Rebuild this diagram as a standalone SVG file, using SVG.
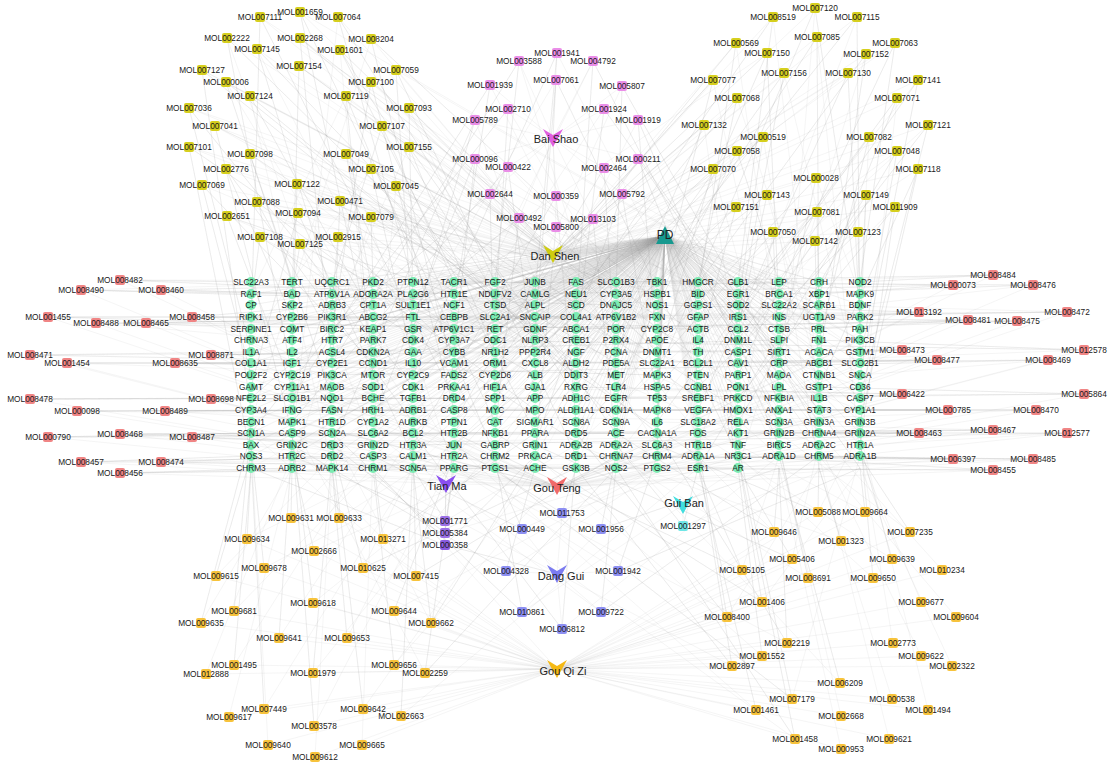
<svg xmlns="http://www.w3.org/2000/svg" width="1116" height="764" viewBox="0 0 1116 764">
<style>
.e path{fill:none;stroke:#a2a2a2;stroke-width:.4;stroke-opacity:.27;stroke-linejoin:round}
.e .pd path{stroke-opacity:.2}
.gn circle{fill:#7bebb2}
.gn text,.m text{font-family:"Liberation Sans",Arial,sans-serif;font-size:8.3px;fill:#1a1a1a;text-anchor:middle}
.h text{font-family:"Liberation Sans",Arial,sans-serif;font-size:11px;fill:#222;text-anchor:middle}
.y rect{fill:#d6cf1e}.p rect{fill:#ea8ee8}.r rect{fill:#f08585}.o rect{fill:#f7c33c}.v rect{fill:#9c70e6}.b rect{fill:#8d8ff2}.c rect{fill:#6fe6e6}
</style>
<rect width="1116" height="764" fill="#ffffff"/>
<g id="edges" class="e">
<g class="pd">
<path d="M251 282L665 236 251 294 665 236 251 305 665 236 251 317 665 236 251 329 665 236 251 340 665 236 251 352 665 236 251 363 665 236 251 375 665 236 251 387 665 236 251 398 665 236 251 410 665 236 251 422 665 236 251 433 665 236 251 445 665 236 251 456 665 236 251 468"/>
<path d="M292 282L665 236 292 294 665 236 292 305 665 236 292 317 665 236 292 329 665 236 292 340 665 236 292 352 665 236 292 363 665 236 292 375 665 236 292 387 665 236 292 398 665 236 292 410 665 236 292 422 665 236 292 433 665 236 292 445 665 236 292 456 665 236 292 468"/>
<path d="M332 282L665 236 332 294 665 236 332 305 665 236 332 317 665 236 332 329 665 236 332 340 665 236 332 352 665 236 332 363 665 236 332 375 665 236 332 387 665 236 332 398 665 236 332 410 665 236 332 422 665 236 332 433 665 236 332 445 665 236 332 456 665 236 332 468"/>
<path d="M373 282L665 236 373 294 665 236 373 305 665 236 373 317 665 236 373 329 665 236 373 340 665 236 373 352 665 236 373 363 665 236 373 375 665 236 373 387 665 236 373 398 665 236 373 410 665 236 373 422 665 236 373 433 665 236 373 445 665 236 373 456 665 236 373 468"/>
<path d="M413 282L665 236 413 294 665 236 413 305 665 236 413 317 665 236 413 329 665 236 413 340 665 236 413 352 665 236 413 363 665 236 413 375 665 236 413 387 665 236 413 398 665 236 413 410 665 236 413 422 665 236 413 433 665 236 413 445 665 236 413 456 665 236 413 468"/>
<path d="M454 282L665 236 454 294 665 236 454 305 665 236 454 317 665 236 454 329 665 236 454 340 665 236 454 352 665 236 454 363 665 236 454 375 665 236 454 387 665 236 454 398 665 236 454 410 665 236 454 422 665 236 454 433 665 236 454 445 665 236 454 456 665 236 454 468"/>
<path d="M495 282L665 236 495 294 665 236 495 305 665 236 495 317 665 236 495 329 665 236 495 340 665 236 495 352 665 236 495 363 665 236 495 375 665 236 495 387 665 236 495 398 665 236 495 410 665 236 495 422 665 236 495 433 665 236 495 445 665 236 495 456 665 236 495 468"/>
<path d="M535 282L665 236 535 294 665 236 535 305 665 236 535 317 665 236 535 329 665 236 535 340 665 236 535 352 665 236 535 363 665 236 535 375 665 236 535 387 665 236 535 398 665 236 535 410 665 236 535 422 665 236 535 433 665 236 535 445 665 236 535 456 665 236 535 468"/>
<path d="M576 282L665 236 576 294 665 236 576 305 665 236 576 317 665 236 576 329 665 236 576 340 665 236 576 352 665 236 576 363 665 236 576 375 665 236 576 387 665 236 576 398 665 236 576 410 665 236 576 422 665 236 576 433 665 236 576 445 665 236 576 456 665 236 576 468"/>
<path d="M616 282L665 236 616 294 665 236 616 305 665 236 616 317 665 236 616 329 665 236 616 340 665 236 616 352 665 236 616 363 665 236 616 375 665 236 616 387 665 236 616 398 665 236 616 410 665 236 616 422 665 236 616 433 665 236 616 445 665 236 616 456 665 236 616 468"/>
<path d="M657 282L665 236 657 294 665 236 657 305 665 236 657 317 665 236 657 329 665 236 657 340 665 236 657 352 665 236 657 363 665 236 657 375 665 236 657 387 665 236 657 398 665 236 657 410 665 236 657 422 665 236 657 433 665 236 657 445 665 236 657 456 665 236 657 468"/>
<path d="M698 282L665 236 698 294 665 236 698 305 665 236 698 317 665 236 698 329 665 236 698 340 665 236 698 352 665 236 698 363 665 236 698 375 665 236 698 387 665 236 698 398 665 236 698 410 665 236 698 422 665 236 698 433 665 236 698 445 665 236 698 456 665 236 698 468"/>
<path d="M738 282L665 236 738 294 665 236 738 305 665 236 738 317 665 236 738 329 665 236 738 340 665 236 738 352 665 236 738 363 665 236 738 375 665 236 738 387 665 236 738 398 665 236 738 410 665 236 738 422 665 236 738 433 665 236 738 445 665 236 738 456 665 236 738 468"/>
<path d="M779 282L665 236 779 294 665 236 779 305 665 236 779 317 665 236 779 329 665 236 779 340 665 236 779 352 665 236 779 363 665 236 779 375 665 236 779 387 665 236 779 398 665 236 779 410 665 236 779 422 665 236 779 433 665 236 779 445 665 236 779 456"/>
<path d="M819 282L665 236 819 294 665 236 819 305 665 236 819 317 665 236 819 329 665 236 819 340 665 236 819 352 665 236 819 363 665 236 819 375 665 236 819 387 665 236 819 398 665 236 819 410 665 236 819 422 665 236 819 433 665 236 819 445 665 236 819 456"/>
<path d="M860 282L665 236 860 294 665 236 860 305 665 236 860 317 665 236 860 329 665 236 860 340 665 236 860 352 665 236 860 363 665 236 860 375 665 236 860 387 665 236 860 398 665 236 860 410 665 236 860 422 665 236 860 433 665 236 860 445 665 236 860 456"/>
</g>
<path d="M553 255L260 17 251 329 260 17 454 398 260 17 698 305"/>
<path d="M553 255L227 38 292 375 227 38 535 340 227 38 373 445"/>
<path d="M553 255L257 49 332 294 257 49 616 422 257 49 413 352"/>
<path d="M553 255L202 70 251 410 202 70 495 305 202 70 779 375"/>
<path d="M553 255L226 82 292 282 226 82 576 363 226 82 454 456"/>
<path d="M553 255L250 96 373 317 250 96 657 433 250 96 332 468"/>
<path d="M553 255L189 108 251 352 189 108 413 387 189 108 738 294"/>
<path d="M553 255L215 126 292 433 215 126 535 282 215 126 616 352"/>
<path d="M553 255L189 147 251 456 189 147 454 329 189 147 860 410"/>
<path d="M553 255L250 154 332 398 250 154 698 456 250 154 495 340"/>
<path d="M553 255L226 169 292 317 226 169 413 422 226 169 576 305"/>
<path d="M553 255L202 185 251 375 202 185 373 363 202 185 819 445"/>
<path d="M553 255L257 202 332 340 257 202 535 410 257 202 657 282"/>
<path d="M553 255L227 216 292 387 227 216 454 294 227 216 738 433"/>
<path d="M553 255L260 237 251 305 260 237 616 468 260 237 413 317"/>
<path d="M553 255L300 12 373 352 300 12 495 422 300 12 860 340"/>
<path d="M553 255L338 17 413 282 338 17 576 398 338 17 292 445"/>
<path d="M553 255L300 38 332 363 300 38 657 317 300 38 779 456"/>
<path d="M553 255L371 39 454 375 371 39 698 340 371 39 251 422"/>
<path d="M553 255L340 50 495 294 340 50 535 433 340 50 373 398"/>
<path d="M553 255L299 66 292 305 299 66 738 387 299 66 616 282"/>
<path d="M553 255L396 70 413 340 396 70 576 456 396 70 819 317"/>
<path d="M553 255L371 82 332 329 371 82 454 410 371 82 698 363"/>
<path d="M553 255L346 96 373 375 346 96 495 456 346 96 251 294"/>
<path d="M553 255L409 108 413 305 409 108 657 352 409 108 535 387"/>
<path d="M553 255L382 126 454 282 382 126 292 410 382 126 779 329"/>
<path d="M553 255L409 147 495 352 409 147 616 433 409 147 332 317"/>
<path d="M553 255L346 154 373 294 346 154 576 375 346 154 454 468"/>
<path d="M553 255L371 169 413 363 371 169 738 410 371 169 251 340"/>
<path d="M553 255L297 184 292 352 297 184 535 305 297 184 860 387"/>
<path d="M553 255L396 186 454 317 396 186 698 398 396 186 373 433"/>
<path d="M553 255L340 201 332 375 340 201 657 294 340 201 495 445"/>
<path d="M553 255L298 213 251 387 298 213 413 456 298 213 576 329"/>
<path d="M553 255L371 217 373 282 371 217 616 363 371 217 292 468"/>
<path d="M553 255L338 237 332 305 338 237 454 352 338 237 779 398"/>
<path d="M553 255L300 244 292 294 300 244 535 375 300 244 413 410"/>
<path d="M553 255L815 8 860 305 815 8 657 375 815 8 779 433"/>
<path d="M553 255L773 17 738 282 773 17 535 363 773 17 819 410"/>
<path d="M553 255L857 17 860 352 857 17 616 317 857 17 698 445"/>
<path d="M553 255L736 43 698 294 736 43 454 387 736 43 779 340"/>
<path d="M553 255L817 37 819 329 817 37 576 410 817 37 860 456"/>
<path d="M553 255L895 43 860 282 895 43 738 375 895 43 495 329"/>
<path d="M553 255L767 53 779 305 767 53 616 398 767 53 413 294"/>
<path d="M553 255L866 54 819 363 866 54 657 340 866 54 738 468"/>
<path d="M553 255L784 73 738 317 784 73 535 422 784 73 860 387"/>
<path d="M553 255L848 73 860 329 848 73 698 410 848 73 576 282"/>
<path d="M553 255L713 80 657 305 713 80 454 363 713 80 779 387"/>
<path d="M553 255L918 80 860 375 918 80 738 340 918 80 616 456"/>
<path d="M553 255L737 98 698 282 737 98 495 398 737 98 819 352"/>
<path d="M553 255L897 98 819 294 897 98 657 422 897 98 860 433"/>
<path d="M553 255L704 125 616 329 704 125 373 410 704 125 738 363"/>
<path d="M553 255L928 125 860 398 928 125 779 317 928 125 576 445"/>
<path d="M553 255L763 137 738 305 763 137 535 352 763 137 819 468"/>
<path d="M553 255L869 137 819 340 869 137 698 375 869 137 860 305"/>
<path d="M553 255L737 151 779 282 737 151 616 387 737 151 413 433"/>
<path d="M553 255L897 151 860 363 897 151 738 422 897 151 657 329"/>
<path d="M553 255L713 169 657 363 713 169 495 375 713 169 779 410"/>
<path d="M553 255L918 169 860 422 918 169 819 387 918 169 698 317"/>
<path d="M553 255L816 178 779 352 816 178 576 433 816 178 860 294"/>
<path d="M553 255L767 195 738 329 767 195 454 445 767 195 819 375"/>
<path d="M553 255L866 195 860 340 866 195 698 468 866 195 779 294"/>
<path d="M553 255L736 207 698 352 736 207 535 398 736 207 616 305"/>
<path d="M553 255L895 207 860 445 895 207 738 398 895 207 819 282"/>
<path d="M553 255L817 212 819 317 817 212 657 387 817 212 576 352"/>
<path d="M553 255L773 232 779 363 773 232 616 410 773 232 738 445"/>
<path d="M553 255L858 232 860 317 858 232 698 387 858 232 495 433"/>
<path d="M553 255L815 241 819 398 815 241 738 352 815 241 657 456"/>
<path d="M553 138L557 53 535 294 557 53 413 375 557 53 698 329"/>
<path d="M553 138L519 61 495 282 519 61 332 363 519 61 616 375"/>
<path d="M553 138L593 61 576 317 593 61 779 422 593 61 454 340"/>
<path d="M553 138L490 85 454 305 490 85 292 398 490 85 657 410"/>
<path d="M553 138L556 80 535 329 556 80 738 456 556 80 373 387"/>
<path d="M553 138L622 86 616 294 622 86 819 433 622 86 495 363"/>
<path d="M553 138L508 109 495 317 508 109 251 433 508 109 698 422"/>
<path d="M553 138L604 109 576 340 604 109 860 468 604 109 413 398"/>
<path d="M553 138L475 120 413 329 475 120 332 445 475 120 576 387"/>
<path d="M553 138L638 120 657 352 638 120 779 445 638 120 535 317"/>
<path d="M553 138L475 159 454 352 475 159 373 422 475 159 616 340"/>
<path d="M553 138L638 159 698 305 638 159 819 422 638 159 495 387"/>
<path d="M553 138L508 167 535 363 508 167 292 422 508 167 738 410"/>
<path d="M553 138L604 168 616 375 604 168 454 422 604 168 860 352"/>
<path d="M553 138L490 194 495 410 490 194 251 398 490 194 657 445"/>
<path d="M553 138L556 196 576 422 556 196 413 445 556 196 779 352"/>
<path d="M553 138L622 194 657 398 622 194 535 445 622 194 819 305"/>
<path d="M553 138L519 218 495 433 519 218 373 340 519 218 698 433"/>
<path d="M553 138L593 219 616 445 593 219 454 433 593 219 738 317"/>
<path d="M553 138L556 227 535 456 556 227 332 352 556 227 779 363"/>
<path d="M557 487L120 280 251 282 120 280 454 294 120 280 779 282"/>
<path d="M557 487L81 290 292 294 81 290 616 305 81 290 373 282"/>
<path d="M557 487L161 290 332 294 161 290 535 282 161 290 738 305"/>
<path d="M557 487L48 317 251 317 48 317 495 329 48 317 860 317"/>
<path d="M557 487L96 323 373 329 96 323 657 317 96 323 292 340"/>
<path d="M557 487L146 323 413 317 146 323 698 329 146 323 251 329"/>
<path d="M557 487L192 317 332 305 192 317 576 317 192 317 819 329"/>
<path d="M557 487L30 355 251 352 30 355 454 363 30 355 738 352"/>
<path d="M557 487L67 363 292 363 67 363 616 363 67 363 413 375"/>
<path d="M557 487L211 355 373 352 211 355 779 340 211 355 535 352"/>
<path d="M557 487L175 363 332 363 175 363 657 375 175 363 495 363"/>
<path d="M557 487L30 399 251 398 30 399 454 398 30 399 819 398"/>
<path d="M557 487L211 399 373 387 211 399 698 398 211 399 576 410"/>
<path d="M557 487L77 411 292 410 77 411 535 410 77 411 860 422"/>
<path d="M557 487L165 411 413 410 165 411 738 410 165 411 332 422"/>
<path d="M557 487L48 437 251 433 48 437 495 433 48 437 779 445"/>
<path d="M557 487L120 434 332 433 120 434 616 433 120 434 413 445"/>
<path d="M557 487L192 437 373 445 192 437 657 433 192 437 292 433"/>
<path d="M557 487L81 462 251 456 81 462 454 456 81 462 738 468"/>
<path d="M557 487L161 462 332 456 161 462 576 468 161 462 860 456"/>
<path d="M557 487L120 473 292 468 120 473 535 468 120 473 413 468"/>
<path d="M557 487L993 275 860 282 993 275 616 282 993 275 413 294"/>
<path d="M557 487L953 285 819 294 953 285 535 294 953 285 738 282"/>
<path d="M557 487L1033 285 779 294 1033 285 454 282 1033 285 860 305"/>
<path d="M557 487L919 312 860 317 919 312 657 305 919 312 332 317"/>
<path d="M557 487L1067 312 738 317 1067 312 495 317 1067 312 819 305"/>
<path d="M557 487L968 320 819 329 968 320 576 329 968 320 251 317"/>
<path d="M557 487L1017 321 779 329 1017 321 413 329 1017 321 698 317"/>
<path d="M557 487L902 350 860 352 902 350 616 352 902 350 292 352"/>
<path d="M557 487L1084 350 819 340 1084 350 454 340 1084 350 738 363"/>
<path d="M557 487L937 360 779 363 937 360 535 363 937 360 373 363"/>
<path d="M557 487L1048 360 698 363 1048 360 332 375 1048 360 860 375"/>
<path d="M557 487L902 394 860 398 902 394 576 387 902 394 413 387"/>
<path d="M557 487L1084 394 819 387 1084 394 495 398 1084 394 738 398"/>
<path d="M557 487L948 410 779 410 948 410 616 410 948 410 292 410"/>
<path d="M557 487L1036 410 860 410 1036 410 454 410 1036 410 698 422"/>
<path d="M557 487L919 433 819 433 919 433 535 433 919 433 251 445"/>
<path d="M557 487L993 430 779 433 993 430 373 433 993 430 657 422"/>
<path d="M557 487L1067 433 738 433 1067 433 413 445 1067 433 860 445"/>
<path d="M557 487L953 459 819 456 953 459 576 456 953 459 332 468"/>
<path d="M557 487L1033 459 779 456 1033 459 495 456 1033 459 698 468"/>
<path d="M557 487L993 470 738 456 993 470 454 468 993 470 616 468"/>
<path d="M446 484L445 521 413 468 445 521 292 456 445 521 576 445"/>
<path d="M446 484L445 533 454 456 445 533 332 445 445 533 698 456"/>
<path d="M446 484L445 545 373 468 445 545 535 456 445 545 251 468 445 545 557 574 445 545 557 669"/>
<path d="M557 574L562 513 576 468 562 513 454 445 562 513 738 456"/>
<path d="M557 574L522 529 495 468 522 529 373 456 522 529 657 468"/>
<path d="M557 574L601 529 616 456 601 529 779 468 601 529 413 456"/>
<path d="M557 574L506 571 535 468 506 571 292 445 506 571 698 445"/>
<path d="M557 574L618 571 657 456 618 571 860 468 618 571 454 468"/>
<path d="M557 574L522 612 495 456 522 612 332 433 522 612 738 468"/>
<path d="M557 574L601 612 616 468 601 612 819 456 601 612 373 445"/>
<path d="M557 574L562 629 576 456 562 629 413 433 562 629 779 456"/>
<path d="M683 505L683 526 698 468 683 526 616 445 683 526 860 456"/>
<path d="M557 669L291 518 292 468 291 518 373 433"/>
<path d="M557 669L339 518 332 468 339 518 454 445"/>
<path d="M557 669L247 539 251 468 247 539 413 456"/>
<path d="M557 669L383 539 373 456 383 539 535 433 383 539 292 445"/>
<path d="M557 669L314 551 292 456 314 551 495 468"/>
<path d="M557 669L264 568 251 445 264 568 454 468"/>
<path d="M557 669L216 576 251 456 216 576 332 456"/>
<path d="M557 669L363 568 332 445 363 568 576 468 363 568 413 468"/>
<path d="M557 669L416 576 413 445 416 576 616 456 416 576 251 433"/>
<path d="M557 669L313 603 292 433 313 603 495 456"/>
<path d="M557 669L234 611 251 422 234 611 373 468"/>
<path d="M557 669L201 623 251 433 201 623 292 468"/>
<path d="M557 669L394 611 454 456 394 611 657 468"/>
<path d="M557 669L431 623 413 468 431 623 535 456 431 623 332 433"/>
<path d="M557 669L279 638 292 445 279 638 413 433"/>
<path d="M557 669L347 638 332 468 347 638 454 433"/>
<path d="M557 669L234 665 251 468 234 665 373 445"/>
<path d="M557 669L206 674 292 456"/>
<path d="M557 669L313 673 332 456 313 673 495 445"/>
<path d="M557 669L394 665 373 468 394 665 576 456"/>
<path d="M557 669L425 673 454 468 425 673 616 468 425 673 292 422"/>
<path d="M557 669L264 709 251 456 264 709 413 468"/>
<path d="M557 669L229 717 292 468"/>
<path d="M557 669L363 709 332 445 363 709 535 468"/>
<path d="M557 669L401 716 413 456 401 716 698 468"/>
<path d="M557 669L314 726 292 433 314 726 454 456"/>
<path d="M557 669L268 745 251 445"/>
<path d="M557 669L362 745 373 456"/>
<path d="M557 669L315 757 332 468"/>
<path d="M557 669L818 512 819 456 818 512 657 445 818 512 860 433"/>
<path d="M557 669L865 512 860 468 865 512 738 445"/>
<path d="M557 669L774 532 779 468 774 532 616 433 774 532 698 456"/>
<path d="M557 669L841 541 819 468 841 541 576 445"/>
<path d="M557 669L910 532 860 456 910 532 779 433"/>
<path d="M557 669L792 559 738 468 792 559 535 445 792 559 819 445"/>
<path d="M557 669L892 559 860 445 892 559 698 433"/>
<path d="M557 669L742 570 698 468 742 570 454 433 742 570 779 456"/>
<path d="M557 669L942 570 819 433"/>
<path d="M557 669L808 578 779 445 808 578 616 456"/>
<path d="M557 669L873 578 860 433 873 578 738 456"/>
<path d="M557 669L762 602 738 456 762 602 495 433 762 602 860 468"/>
<path d="M557 669L921 602 860 456"/>
<path d="M557 669L727 617 698 445 727 617 576 433 727 617 819 468"/>
<path d="M557 669L956 617 819 456"/>
<path d="M557 669L787 643 779 468 787 643 657 433 787 643 413 445"/>
<path d="M557 669L893 643 860 445"/>
<path d="M557 669L762 656 738 468 762 656 535 456"/>
<path d="M557 669L921 656 819 445"/>
<path d="M557 669L732 666 698 456 732 666 576 468 732 666 292 433"/>
<path d="M557 669L952 666 860 468"/>
<path d="M557 669L840 683 779 456 840 683 616 445"/>
<path d="M557 669L792 699 738 445 792 699 495 468 792 699 860 456"/>
<path d="M557 669L892 699 819 468"/>
<path d="M557 669L756 710 698 468 756 710 454 445"/>
<path d="M557 669L928 710 860 433"/>
<path d="M557 669L841 716 779 445"/>
<path d="M557 669L795 739 738 456 795 739 616 468 795 739 373 433"/>
<path d="M557 669L889 739 819 456"/>
<path d="M557 669L841 749 779 468"/>
</g>
<g id="genes" class="gn">
<g id="SLC22A3"><circle cx="251" cy="282" r="5"/><text x="251" y="285">SLC22A3</text></g>
<g id="RAF1"><circle cx="251" cy="294" r="5"/><text x="251" y="297">RAF1</text></g>
<g id="CP"><circle cx="251" cy="305" r="5"/><text x="251" y="308">CP</text></g>
<g id="RIPK1"><circle cx="251" cy="317" r="5"/><text x="251" y="320">RIPK1</text></g>
<g id="SERPINE1"><circle cx="251" cy="329" r="5"/><text x="251" y="332">SERPINE1</text></g>
<g id="CHRNA3"><circle cx="251" cy="340" r="5"/><text x="251" y="343">CHRNA3</text></g>
<g id="IL1A"><circle cx="251" cy="352" r="5"/><text x="251" y="355">IL1A</text></g>
<g id="COL1A1"><circle cx="251" cy="363" r="5"/><text x="251" y="366">COL1A1</text></g>
<g id="POU2F2"><circle cx="251" cy="375" r="5"/><text x="251" y="378">POU2F2</text></g>
<g id="GAMT"><circle cx="251" cy="387" r="5"/><text x="251" y="390">GAMT</text></g>
<g id="NFE2L2"><circle cx="251" cy="398" r="5"/><text x="251" y="401">NFE2L2</text></g>
<g id="CYP3A4"><circle cx="251" cy="410" r="5"/><text x="251" y="413">CYP3A4</text></g>
<g id="BECN1"><circle cx="251" cy="422" r="5"/><text x="251" y="425">BECN1</text></g>
<g id="SCN1A"><circle cx="251" cy="433" r="5"/><text x="251" y="436">SCN1A</text></g>
<g id="BAX"><circle cx="251" cy="445" r="5"/><text x="251" y="448">BAX</text></g>
<g id="NOS3"><circle cx="251" cy="456" r="5"/><text x="251" y="459">NOS3</text></g>
<g id="CHRM3"><circle cx="251" cy="468" r="5"/><text x="251" y="471">CHRM3</text></g>
<g id="TERT"><circle cx="292" cy="282" r="5"/><text x="292" y="285">TERT</text></g>
<g id="BAD"><circle cx="292" cy="294" r="5"/><text x="292" y="297">BAD</text></g>
<g id="SKP2"><circle cx="292" cy="305" r="5"/><text x="292" y="308">SKP2</text></g>
<g id="CYP2B6"><circle cx="292" cy="317" r="5"/><text x="292" y="320">CYP2B6</text></g>
<g id="COMT"><circle cx="292" cy="329" r="5"/><text x="292" y="332">COMT</text></g>
<g id="ATF4"><circle cx="292" cy="340" r="5"/><text x="292" y="343">ATF4</text></g>
<g id="IL2"><circle cx="292" cy="352" r="5"/><text x="292" y="355">IL2</text></g>
<g id="IGF1"><circle cx="292" cy="363" r="5"/><text x="292" y="366">IGF1</text></g>
<g id="CYP2C19"><circle cx="292" cy="375" r="5"/><text x="292" y="378">CYP2C19</text></g>
<g id="CYP11A1"><circle cx="292" cy="387" r="5"/><text x="292" y="390">CYP11A1</text></g>
<g id="SLCO1B1"><circle cx="292" cy="398" r="5"/><text x="292" y="401">SLCO1B1</text></g>
<g id="IFNG"><circle cx="292" cy="410" r="5"/><text x="292" y="413">IFNG</text></g>
<g id="MAPK1"><circle cx="292" cy="422" r="5"/><text x="292" y="425">MAPK1</text></g>
<g id="CASP9"><circle cx="292" cy="433" r="5"/><text x="292" y="436">CASP9</text></g>
<g id="GRIN2C"><circle cx="292" cy="445" r="5"/><text x="292" y="448">GRIN2C</text></g>
<g id="HTR2C"><circle cx="292" cy="456" r="5"/><text x="292" y="459">HTR2C</text></g>
<g id="ADRB2"><circle cx="292" cy="468" r="5"/><text x="292" y="471">ADRB2</text></g>
<g id="UQCRC1"><circle cx="332" cy="282" r="5"/><text x="332" y="285">UQCRC1</text></g>
<g id="ATP6V1A"><circle cx="332" cy="294" r="5"/><text x="332" y="297">ATP6V1A</text></g>
<g id="ADRB3"><circle cx="332" cy="305" r="5"/><text x="332" y="308">ADRB3</text></g>
<g id="PIK3R1"><circle cx="332" cy="317" r="5"/><text x="332" y="320">PIK3R1</text></g>
<g id="BIRC2"><circle cx="332" cy="329" r="5"/><text x="332" y="332">BIRC2</text></g>
<g id="HTR7"><circle cx="332" cy="340" r="5"/><text x="332" y="343">HTR7</text></g>
<g id="ACSL4"><circle cx="332" cy="352" r="5"/><text x="332" y="355">ACSL4</text></g>
<g id="CYP2E1"><circle cx="332" cy="363" r="5"/><text x="332" y="366">CYP2E1</text></g>
<g id="PIK3CA"><circle cx="332" cy="375" r="5"/><text x="332" y="378">PIK3CA</text></g>
<g id="MAOB"><circle cx="332" cy="387" r="5"/><text x="332" y="390">MAOB</text></g>
<g id="NQO1"><circle cx="332" cy="398" r="5"/><text x="332" y="401">NQO1</text></g>
<g id="FASN"><circle cx="332" cy="410" r="5"/><text x="332" y="413">FASN</text></g>
<g id="HTR1D"><circle cx="332" cy="422" r="5"/><text x="332" y="425">HTR1D</text></g>
<g id="SCN2A"><circle cx="332" cy="433" r="5"/><text x="332" y="436">SCN2A</text></g>
<g id="DRD3"><circle cx="332" cy="445" r="5"/><text x="332" y="448">DRD3</text></g>
<g id="DRD2"><circle cx="332" cy="456" r="5"/><text x="332" y="459">DRD2</text></g>
<g id="MAPK14"><circle cx="332" cy="468" r="5"/><text x="332" y="471">MAPK14</text></g>
<g id="PKD2"><circle cx="373" cy="282" r="5"/><text x="373" y="285">PKD2</text></g>
<g id="ADORA2A"><circle cx="373" cy="294" r="5"/><text x="373" y="297">ADORA2A</text></g>
<g id="CPT1A"><circle cx="373" cy="305" r="5"/><text x="373" y="308">CPT1A</text></g>
<g id="ABCG2"><circle cx="373" cy="317" r="5"/><text x="373" y="320">ABCG2</text></g>
<g id="KEAP1"><circle cx="373" cy="329" r="5"/><text x="373" y="332">KEAP1</text></g>
<g id="PARK7"><circle cx="373" cy="340" r="5"/><text x="373" y="343">PARK7</text></g>
<g id="CDKN2A"><circle cx="373" cy="352" r="5"/><text x="373" y="355">CDKN2A</text></g>
<g id="CCND1"><circle cx="373" cy="363" r="5"/><text x="373" y="366">CCND1</text></g>
<g id="MTOR"><circle cx="373" cy="375" r="5"/><text x="373" y="378">MTOR</text></g>
<g id="SOD1"><circle cx="373" cy="387" r="5"/><text x="373" y="390">SOD1</text></g>
<g id="BCHE"><circle cx="373" cy="398" r="5"/><text x="373" y="401">BCHE</text></g>
<g id="HRH1"><circle cx="373" cy="410" r="5"/><text x="373" y="413">HRH1</text></g>
<g id="CYP1A2"><circle cx="373" cy="422" r="5"/><text x="373" y="425">CYP1A2</text></g>
<g id="SLC6A2"><circle cx="373" cy="433" r="5"/><text x="373" y="436">SLC6A2</text></g>
<g id="GRIN2D"><circle cx="373" cy="445" r="5"/><text x="373" y="448">GRIN2D</text></g>
<g id="CASP3"><circle cx="373" cy="456" r="5"/><text x="373" y="459">CASP3</text></g>
<g id="CHRM1"><circle cx="373" cy="468" r="5"/><text x="373" y="471">CHRM1</text></g>
<g id="PTPN12"><circle cx="413" cy="282" r="5"/><text x="413" y="285">PTPN12</text></g>
<g id="PLA2G6"><circle cx="413" cy="294" r="5"/><text x="413" y="297">PLA2G6</text></g>
<g id="SULT1E1"><circle cx="413" cy="305" r="5"/><text x="413" y="308">SULT1E1</text></g>
<g id="FTL"><circle cx="413" cy="317" r="5"/><text x="413" y="320">FTL</text></g>
<g id="GSR"><circle cx="413" cy="329" r="5"/><text x="413" y="332">GSR</text></g>
<g id="CDK4"><circle cx="413" cy="340" r="5"/><text x="413" y="343">CDK4</text></g>
<g id="GAA"><circle cx="413" cy="352" r="5"/><text x="413" y="355">GAA</text></g>
<g id="IL10"><circle cx="413" cy="363" r="5"/><text x="413" y="366">IL10</text></g>
<g id="CYP2C9"><circle cx="413" cy="375" r="5"/><text x="413" y="378">CYP2C9</text></g>
<g id="CDK1"><circle cx="413" cy="387" r="5"/><text x="413" y="390">CDK1</text></g>
<g id="TGFB1"><circle cx="413" cy="398" r="5"/><text x="413" y="401">TGFB1</text></g>
<g id="ADRB1"><circle cx="413" cy="410" r="5"/><text x="413" y="413">ADRB1</text></g>
<g id="AURKB"><circle cx="413" cy="422" r="5"/><text x="413" y="425">AURKB</text></g>
<g id="BCL2"><circle cx="413" cy="433" r="5"/><text x="413" y="436">BCL2</text></g>
<g id="HTR3A"><circle cx="413" cy="445" r="5"/><text x="413" y="448">HTR3A</text></g>
<g id="CALM1"><circle cx="413" cy="456" r="5"/><text x="413" y="459">CALM1</text></g>
<g id="SCN5A"><circle cx="413" cy="468" r="5"/><text x="413" y="471">SCN5A</text></g>
<g id="TACR1"><circle cx="454" cy="282" r="5"/><text x="454" y="285">TACR1</text></g>
<g id="HTR1E"><circle cx="454" cy="294" r="5"/><text x="454" y="297">HTR1E</text></g>
<g id="NCF1"><circle cx="454" cy="305" r="5"/><text x="454" y="308">NCF1</text></g>
<g id="CEBPB"><circle cx="454" cy="317" r="5"/><text x="454" y="320">CEBPB</text></g>
<g id="ATP6V1C1"><circle cx="454" cy="329" r="5"/><text x="454" y="332">ATP6V1C1</text></g>
<g id="CYP3A7"><circle cx="454" cy="340" r="5"/><text x="454" y="343">CYP3A7</text></g>
<g id="CYBB"><circle cx="454" cy="352" r="5"/><text x="454" y="355">CYBB</text></g>
<g id="VCAM1"><circle cx="454" cy="363" r="5"/><text x="454" y="366">VCAM1</text></g>
<g id="FADS2"><circle cx="454" cy="375" r="5"/><text x="454" y="378">FADS2</text></g>
<g id="PRKAA1"><circle cx="454" cy="387" r="5"/><text x="454" y="390">PRKAA1</text></g>
<g id="DRD4"><circle cx="454" cy="398" r="5"/><text x="454" y="401">DRD4</text></g>
<g id="CASP8"><circle cx="454" cy="410" r="5"/><text x="454" y="413">CASP8</text></g>
<g id="PTPN1"><circle cx="454" cy="422" r="5"/><text x="454" y="425">PTPN1</text></g>
<g id="HTR2B"><circle cx="454" cy="433" r="5"/><text x="454" y="436">HTR2B</text></g>
<g id="JUN"><circle cx="454" cy="445" r="5"/><text x="454" y="448">JUN</text></g>
<g id="HTR2A"><circle cx="454" cy="456" r="5"/><text x="454" y="459">HTR2A</text></g>
<g id="PPARG"><circle cx="454" cy="468" r="5"/><text x="454" y="471">PPARG</text></g>
<g id="FGF2"><circle cx="495" cy="282" r="5"/><text x="495" y="285">FGF2</text></g>
<g id="NDUFV2"><circle cx="495" cy="294" r="5"/><text x="495" y="297">NDUFV2</text></g>
<g id="CTSD"><circle cx="495" cy="305" r="5"/><text x="495" y="308">CTSD</text></g>
<g id="SLC2A1"><circle cx="495" cy="317" r="5"/><text x="495" y="320">SLC2A1</text></g>
<g id="RET"><circle cx="495" cy="329" r="5"/><text x="495" y="332">RET</text></g>
<g id="ODC1"><circle cx="495" cy="340" r="5"/><text x="495" y="343">ODC1</text></g>
<g id="NR1H2"><circle cx="495" cy="352" r="5"/><text x="495" y="355">NR1H2</text></g>
<g id="ORM1"><circle cx="495" cy="363" r="5"/><text x="495" y="366">ORM1</text></g>
<g id="CYP2D6"><circle cx="495" cy="375" r="5"/><text x="495" y="378">CYP2D6</text></g>
<g id="HIF1A"><circle cx="495" cy="387" r="5"/><text x="495" y="390">HIF1A</text></g>
<g id="SPP1"><circle cx="495" cy="398" r="5"/><text x="495" y="401">SPP1</text></g>
<g id="MYC"><circle cx="495" cy="410" r="5"/><text x="495" y="413">MYC</text></g>
<g id="CAT"><circle cx="495" cy="422" r="5"/><text x="495" y="425">CAT</text></g>
<g id="NFKB1"><circle cx="495" cy="433" r="5"/><text x="495" y="436">NFKB1</text></g>
<g id="GABRP"><circle cx="495" cy="445" r="5"/><text x="495" y="448">GABRP</text></g>
<g id="CHRM2"><circle cx="495" cy="456" r="5"/><text x="495" y="459">CHRM2</text></g>
<g id="PTGS1"><circle cx="495" cy="468" r="5"/><text x="495" y="471">PTGS1</text></g>
<g id="JUNB"><circle cx="535" cy="282" r="5"/><text x="535" y="285">JUNB</text></g>
<g id="CAMLG"><circle cx="535" cy="294" r="5"/><text x="535" y="297">CAMLG</text></g>
<g id="ALPL"><circle cx="535" cy="305" r="5"/><text x="535" y="308">ALPL</text></g>
<g id="SNCAIP"><circle cx="535" cy="317" r="5"/><text x="535" y="320">SNCAIP</text></g>
<g id="GDNF"><circle cx="535" cy="329" r="5"/><text x="535" y="332">GDNF</text></g>
<g id="NLRP3"><circle cx="535" cy="340" r="5"/><text x="535" y="343">NLRP3</text></g>
<g id="PPP2R4"><circle cx="535" cy="352" r="5"/><text x="535" y="355">PPP2R4</text></g>
<g id="CXCL8"><circle cx="535" cy="363" r="5"/><text x="535" y="366">CXCL8</text></g>
<g id="ALB"><circle cx="535" cy="375" r="5"/><text x="535" y="378">ALB</text></g>
<g id="GJA1"><circle cx="535" cy="387" r="5"/><text x="535" y="390">GJA1</text></g>
<g id="APP"><circle cx="535" cy="398" r="5"/><text x="535" y="401">APP</text></g>
<g id="MPO"><circle cx="535" cy="410" r="5"/><text x="535" y="413">MPO</text></g>
<g id="SIGMAR1"><circle cx="535" cy="422" r="5"/><text x="535" y="425">SIGMAR1</text></g>
<g id="PPARA"><circle cx="535" cy="433" r="5"/><text x="535" y="436">PPARA</text></g>
<g id="GRIN1"><circle cx="535" cy="445" r="5"/><text x="535" y="448">GRIN1</text></g>
<g id="PRKACA"><circle cx="535" cy="456" r="5"/><text x="535" y="459">PRKACA</text></g>
<g id="ACHE"><circle cx="535" cy="468" r="5"/><text x="535" y="471">ACHE</text></g>
<g id="FAS"><circle cx="576" cy="282" r="5"/><text x="576" y="285">FAS</text></g>
<g id="NEU1"><circle cx="576" cy="294" r="5"/><text x="576" y="297">NEU1</text></g>
<g id="SCD"><circle cx="576" cy="305" r="5"/><text x="576" y="308">SCD</text></g>
<g id="COL4A1"><circle cx="576" cy="317" r="5"/><text x="576" y="320">COL4A1</text></g>
<g id="ABCA1"><circle cx="576" cy="329" r="5"/><text x="576" y="332">ABCA1</text></g>
<g id="CREB1"><circle cx="576" cy="340" r="5"/><text x="576" y="343">CREB1</text></g>
<g id="NGF"><circle cx="576" cy="352" r="5"/><text x="576" y="355">NGF</text></g>
<g id="ALDH2"><circle cx="576" cy="363" r="5"/><text x="576" y="366">ALDH2</text></g>
<g id="DDIT3"><circle cx="576" cy="375" r="5"/><text x="576" y="378">DDIT3</text></g>
<g id="RXRG"><circle cx="576" cy="387" r="5"/><text x="576" y="390">RXRG</text></g>
<g id="ADH1C"><circle cx="576" cy="398" r="5"/><text x="576" y="401">ADH1C</text></g>
<g id="ALDH1A1"><circle cx="576" cy="410" r="5"/><text x="576" y="413">ALDH1A1</text></g>
<g id="SCN8A"><circle cx="576" cy="422" r="5"/><text x="576" y="425">SCN8A</text></g>
<g id="DRD5"><circle cx="576" cy="433" r="5"/><text x="576" y="436">DRD5</text></g>
<g id="ADRA2B"><circle cx="576" cy="445" r="5"/><text x="576" y="448">ADRA2B</text></g>
<g id="DRD1"><circle cx="576" cy="456" r="5"/><text x="576" y="459">DRD1</text></g>
<g id="GSK3B"><circle cx="576" cy="468" r="5"/><text x="576" y="471">GSK3B</text></g>
<g id="SLCO1B3"><circle cx="616" cy="282" r="5"/><text x="616" y="285">SLCO1B3</text></g>
<g id="CYP3A5"><circle cx="616" cy="294" r="5"/><text x="616" y="297">CYP3A5</text></g>
<g id="DNAJC5"><circle cx="616" cy="305" r="5"/><text x="616" y="308">DNAJC5</text></g>
<g id="ATP6V1B2"><circle cx="616" cy="317" r="5"/><text x="616" y="320">ATP6V1B2</text></g>
<g id="POR"><circle cx="616" cy="329" r="5"/><text x="616" y="332">POR</text></g>
<g id="P2RX4"><circle cx="616" cy="340" r="5"/><text x="616" y="343">P2RX4</text></g>
<g id="PCNA"><circle cx="616" cy="352" r="5"/><text x="616" y="355">PCNA</text></g>
<g id="PDE5A"><circle cx="616" cy="363" r="5"/><text x="616" y="366">PDE5A</text></g>
<g id="MET"><circle cx="616" cy="375" r="5"/><text x="616" y="378">MET</text></g>
<g id="TLR4"><circle cx="616" cy="387" r="5"/><text x="616" y="390">TLR4</text></g>
<g id="EGFR"><circle cx="616" cy="398" r="5"/><text x="616" y="401">EGFR</text></g>
<g id="CDKN1A"><circle cx="616" cy="410" r="5"/><text x="616" y="413">CDKN1A</text></g>
<g id="SCN9A"><circle cx="616" cy="422" r="5"/><text x="616" y="425">SCN9A</text></g>
<g id="ACE"><circle cx="616" cy="433" r="5"/><text x="616" y="436">ACE</text></g>
<g id="ADRA2A"><circle cx="616" cy="445" r="5"/><text x="616" y="448">ADRA2A</text></g>
<g id="CHRNA7"><circle cx="616" cy="456" r="5"/><text x="616" y="459">CHRNA7</text></g>
<g id="NOS2"><circle cx="616" cy="468" r="5"/><text x="616" y="471">NOS2</text></g>
<g id="TBK1"><circle cx="657" cy="282" r="5"/><text x="657" y="285">TBK1</text></g>
<g id="HSPB1"><circle cx="657" cy="294" r="5"/><text x="657" y="297">HSPB1</text></g>
<g id="NOS1"><circle cx="657" cy="305" r="5"/><text x="657" y="308">NOS1</text></g>
<g id="FXN"><circle cx="657" cy="317" r="5"/><text x="657" y="320">FXN</text></g>
<g id="CYP2C8"><circle cx="657" cy="329" r="5"/><text x="657" y="332">CYP2C8</text></g>
<g id="APOE"><circle cx="657" cy="340" r="5"/><text x="657" y="343">APOE</text></g>
<g id="DNMT1"><circle cx="657" cy="352" r="5"/><text x="657" y="355">DNMT1</text></g>
<g id="SLC22A1"><circle cx="657" cy="363" r="5"/><text x="657" y="366">SLC22A1</text></g>
<g id="MAPK3"><circle cx="657" cy="375" r="5"/><text x="657" y="378">MAPK3</text></g>
<g id="HSPA5"><circle cx="657" cy="387" r="5"/><text x="657" y="390">HSPA5</text></g>
<g id="TP53"><circle cx="657" cy="398" r="5"/><text x="657" y="401">TP53</text></g>
<g id="MAPK8"><circle cx="657" cy="410" r="5"/><text x="657" y="413">MAPK8</text></g>
<g id="IL6"><circle cx="657" cy="422" r="5"/><text x="657" y="425">IL6</text></g>
<g id="CACNA1A"><circle cx="657" cy="433" r="5"/><text x="657" y="436">CACNA1A</text></g>
<g id="SLC6A3"><circle cx="657" cy="445" r="5"/><text x="657" y="448">SLC6A3</text></g>
<g id="CHRM4"><circle cx="657" cy="456" r="5"/><text x="657" y="459">CHRM4</text></g>
<g id="PTGS2"><circle cx="657" cy="468" r="5"/><text x="657" y="471">PTGS2</text></g>
<g id="HMGCR"><circle cx="698" cy="282" r="5"/><text x="698" y="285">HMGCR</text></g>
<g id="BID"><circle cx="698" cy="294" r="5"/><text x="698" y="297">BID</text></g>
<g id="GGPS1"><circle cx="698" cy="305" r="5"/><text x="698" y="308">GGPS1</text></g>
<g id="GFAP"><circle cx="698" cy="317" r="5"/><text x="698" y="320">GFAP</text></g>
<g id="ACTB"><circle cx="698" cy="329" r="5"/><text x="698" y="332">ACTB</text></g>
<g id="IL4"><circle cx="698" cy="340" r="5"/><text x="698" y="343">IL4</text></g>
<g id="TH"><circle cx="698" cy="352" r="5"/><text x="698" y="355">TH</text></g>
<g id="BCL2L1"><circle cx="698" cy="363" r="5"/><text x="698" y="366">BCL2L1</text></g>
<g id="PTEN"><circle cx="698" cy="375" r="5"/><text x="698" y="378">PTEN</text></g>
<g id="CCNB1"><circle cx="698" cy="387" r="5"/><text x="698" y="390">CCNB1</text></g>
<g id="SREBF1"><circle cx="698" cy="398" r="5"/><text x="698" y="401">SREBF1</text></g>
<g id="VEGFA"><circle cx="698" cy="410" r="5"/><text x="698" y="413">VEGFA</text></g>
<g id="SLC18A2"><circle cx="698" cy="422" r="5"/><text x="698" y="425">SLC18A2</text></g>
<g id="FOS"><circle cx="698" cy="433" r="5"/><text x="698" y="436">FOS</text></g>
<g id="HTR1B"><circle cx="698" cy="445" r="5"/><text x="698" y="448">HTR1B</text></g>
<g id="ADRA1A"><circle cx="698" cy="456" r="5"/><text x="698" y="459">ADRA1A</text></g>
<g id="ESR1"><circle cx="698" cy="468" r="5"/><text x="698" y="471">ESR1</text></g>
<g id="GLB1"><circle cx="738" cy="282" r="5"/><text x="738" y="285">GLB1</text></g>
<g id="EGR1"><circle cx="738" cy="294" r="5"/><text x="738" y="297">EGR1</text></g>
<g id="SOD2"><circle cx="738" cy="305" r="5"/><text x="738" y="308">SOD2</text></g>
<g id="IRS1"><circle cx="738" cy="317" r="5"/><text x="738" y="320">IRS1</text></g>
<g id="CCL2"><circle cx="738" cy="329" r="5"/><text x="738" y="332">CCL2</text></g>
<g id="DNM1L"><circle cx="738" cy="340" r="5"/><text x="738" y="343">DNM1L</text></g>
<g id="CASP1"><circle cx="738" cy="352" r="5"/><text x="738" y="355">CASP1</text></g>
<g id="CAV1"><circle cx="738" cy="363" r="5"/><text x="738" y="366">CAV1</text></g>
<g id="PARP1"><circle cx="738" cy="375" r="5"/><text x="738" y="378">PARP1</text></g>
<g id="PON1"><circle cx="738" cy="387" r="5"/><text x="738" y="390">PON1</text></g>
<g id="PRKCD"><circle cx="738" cy="398" r="5"/><text x="738" y="401">PRKCD</text></g>
<g id="HMOX1"><circle cx="738" cy="410" r="5"/><text x="738" y="413">HMOX1</text></g>
<g id="RELA"><circle cx="738" cy="422" r="5"/><text x="738" y="425">RELA</text></g>
<g id="AKT1"><circle cx="738" cy="433" r="5"/><text x="738" y="436">AKT1</text></g>
<g id="TNF"><circle cx="738" cy="445" r="5"/><text x="738" y="448">TNF</text></g>
<g id="NR3C1"><circle cx="738" cy="456" r="5"/><text x="738" y="459">NR3C1</text></g>
<g id="AR"><circle cx="738" cy="468" r="5"/><text x="738" y="471">AR</text></g>
<g id="LEP"><circle cx="779" cy="282" r="5"/><text x="779" y="285">LEP</text></g>
<g id="BRCA1"><circle cx="779" cy="294" r="5"/><text x="779" y="297">BRCA1</text></g>
<g id="SLC22A2"><circle cx="779" cy="305" r="5"/><text x="779" y="308">SLC22A2</text></g>
<g id="INS"><circle cx="779" cy="317" r="5"/><text x="779" y="320">INS</text></g>
<g id="CTSB"><circle cx="779" cy="329" r="5"/><text x="779" y="332">CTSB</text></g>
<g id="SLPI"><circle cx="779" cy="340" r="5"/><text x="779" y="343">SLPI</text></g>
<g id="SIRT1"><circle cx="779" cy="352" r="5"/><text x="779" y="355">SIRT1</text></g>
<g id="CRP"><circle cx="779" cy="363" r="5"/><text x="779" y="366">CRP</text></g>
<g id="MAOA"><circle cx="779" cy="375" r="5"/><text x="779" y="378">MAOA</text></g>
<g id="LPL"><circle cx="779" cy="387" r="5"/><text x="779" y="390">LPL</text></g>
<g id="NFKBIA"><circle cx="779" cy="398" r="5"/><text x="779" y="401">NFKBIA</text></g>
<g id="ANXA1"><circle cx="779" cy="410" r="5"/><text x="779" y="413">ANXA1</text></g>
<g id="SCN3A"><circle cx="779" cy="422" r="5"/><text x="779" y="425">SCN3A</text></g>
<g id="GRIN2B"><circle cx="779" cy="433" r="5"/><text x="779" y="436">GRIN2B</text></g>
<g id="BIRC5"><circle cx="779" cy="445" r="5"/><text x="779" y="448">BIRC5</text></g>
<g id="ADRA1D"><circle cx="779" cy="456" r="5"/><text x="779" y="459">ADRA1D</text></g>
<g id="CRH"><circle cx="819" cy="282" r="5"/><text x="819" y="285">CRH</text></g>
<g id="XBP1"><circle cx="819" cy="294" r="5"/><text x="819" y="297">XBP1</text></g>
<g id="SCARB1"><circle cx="819" cy="305" r="5"/><text x="819" y="308">SCARB1</text></g>
<g id="UGT1A9"><circle cx="819" cy="317" r="5"/><text x="819" y="320">UGT1A9</text></g>
<g id="PRL"><circle cx="819" cy="329" r="5"/><text x="819" y="332">PRL</text></g>
<g id="FN1"><circle cx="819" cy="340" r="5"/><text x="819" y="343">FN1</text></g>
<g id="ACACA"><circle cx="819" cy="352" r="5"/><text x="819" y="355">ACACA</text></g>
<g id="ABCB1"><circle cx="819" cy="363" r="5"/><text x="819" y="366">ABCB1</text></g>
<g id="CTNNB1"><circle cx="819" cy="375" r="5"/><text x="819" y="378">CTNNB1</text></g>
<g id="GSTP1"><circle cx="819" cy="387" r="5"/><text x="819" y="390">GSTP1</text></g>
<g id="IL1B"><circle cx="819" cy="398" r="5"/><text x="819" y="401">IL1B</text></g>
<g id="STAT3"><circle cx="819" cy="410" r="5"/><text x="819" y="413">STAT3</text></g>
<g id="GRIN3A"><circle cx="819" cy="422" r="5"/><text x="819" y="425">GRIN3A</text></g>
<g id="CHRNA4"><circle cx="819" cy="433" r="5"/><text x="819" y="436">CHRNA4</text></g>
<g id="ADRA2C"><circle cx="819" cy="445" r="5"/><text x="819" y="448">ADRA2C</text></g>
<g id="CHRM5"><circle cx="819" cy="456" r="5"/><text x="819" y="459">CHRM5</text></g>
<g id="NOD2"><circle cx="860" cy="282" r="5"/><text x="860" y="285">NOD2</text></g>
<g id="MAPK9"><circle cx="860" cy="294" r="5"/><text x="860" y="297">MAPK9</text></g>
<g id="BDNF"><circle cx="860" cy="305" r="5"/><text x="860" y="308">BDNF</text></g>
<g id="PARK2"><circle cx="860" cy="317" r="5"/><text x="860" y="320">PARK2</text></g>
<g id="PAH"><circle cx="860" cy="329" r="5"/><text x="860" y="332">PAH</text></g>
<g id="PIK3CB"><circle cx="860" cy="340" r="5"/><text x="860" y="343">PIK3CB</text></g>
<g id="GSTM1"><circle cx="860" cy="352" r="5"/><text x="860" y="355">GSTM1</text></g>
<g id="SLCO2B1"><circle cx="860" cy="363" r="5"/><text x="860" y="366">SLCO2B1</text></g>
<g id="SNCA"><circle cx="860" cy="375" r="5"/><text x="860" y="378">SNCA</text></g>
<g id="CD36"><circle cx="860" cy="387" r="5"/><text x="860" y="390">CD36</text></g>
<g id="CASP7"><circle cx="860" cy="398" r="5"/><text x="860" y="401">CASP7</text></g>
<g id="CYP1A1"><circle cx="860" cy="410" r="5"/><text x="860" y="413">CYP1A1</text></g>
<g id="GRIN3B"><circle cx="860" cy="422" r="5"/><text x="860" y="425">GRIN3B</text></g>
<g id="GRIN2A"><circle cx="860" cy="433" r="5"/><text x="860" y="436">GRIN2A</text></g>
<g id="HTR1A"><circle cx="860" cy="445" r="5"/><text x="860" y="448">HTR1A</text></g>
<g id="ADRA1B"><circle cx="860" cy="456" r="5"/><text x="860" y="459">ADRA1B</text></g>
</g>
<g id="compounds" class="m">
<g class="y">
<g id="MOL007111"><rect x="255" y="12" width="10" height="10" rx="2"/><text x="260" y="20">MOL007111</text></g>
<g id="MOL002222"><rect x="222" y="33" width="10" height="10" rx="2"/><text x="227" y="41">MOL002222</text></g>
<g id="MOL007145"><rect x="252" y="44" width="10" height="10" rx="2"/><text x="257" y="52">MOL007145</text></g>
<g id="MOL007127"><rect x="197" y="65" width="10" height="10" rx="2"/><text x="202" y="73">MOL007127</text></g>
<g id="MOL000006"><rect x="221" y="77" width="10" height="10" rx="2"/><text x="226" y="85">MOL000006</text></g>
<g id="MOL007124"><rect x="245" y="91" width="10" height="10" rx="2"/><text x="250" y="99">MOL007124</text></g>
<g id="MOL007036"><rect x="184" y="103" width="10" height="10" rx="2"/><text x="189" y="111">MOL007036</text></g>
<g id="MOL007041"><rect x="210" y="121" width="10" height="10" rx="2"/><text x="215" y="129">MOL007041</text></g>
<g id="MOL007101"><rect x="184" y="142" width="10" height="10" rx="2"/><text x="189" y="150">MOL007101</text></g>
<g id="MOL007098"><rect x="245" y="149" width="10" height="10" rx="2"/><text x="250" y="157">MOL007098</text></g>
<g id="MOL002776"><rect x="221" y="164" width="10" height="10" rx="2"/><text x="226" y="172">MOL002776</text></g>
<g id="MOL007069"><rect x="197" y="180" width="10" height="10" rx="2"/><text x="202" y="188">MOL007069</text></g>
<g id="MOL007088"><rect x="252" y="197" width="10" height="10" rx="2"/><text x="257" y="205">MOL007088</text></g>
<g id="MOL002651"><rect x="222" y="211" width="10" height="10" rx="2"/><text x="227" y="219">MOL002651</text></g>
<g id="MOL007108"><rect x="255" y="232" width="10" height="10" rx="2"/><text x="260" y="240">MOL007108</text></g>
<g id="MOL001659"><rect x="295" y="7" width="10" height="10" rx="2"/><text x="300" y="15">MOL001659</text></g>
<g id="MOL007064"><rect x="333" y="12" width="10" height="10" rx="2"/><text x="338" y="20">MOL007064</text></g>
<g id="MOL002268"><rect x="295" y="33" width="10" height="10" rx="2"/><text x="300" y="41">MOL002268</text></g>
<g id="MOL008204"><rect x="366" y="34" width="10" height="10" rx="2"/><text x="371" y="42">MOL008204</text></g>
<g id="MOL001601"><rect x="335" y="45" width="10" height="10" rx="2"/><text x="340" y="53">MOL001601</text></g>
<g id="MOL007154"><rect x="294" y="61" width="10" height="10" rx="2"/><text x="299" y="69">MOL007154</text></g>
<g id="MOL007059"><rect x="391" y="65" width="10" height="10" rx="2"/><text x="396" y="73">MOL007059</text></g>
<g id="MOL007100"><rect x="366" y="77" width="10" height="10" rx="2"/><text x="371" y="85">MOL007100</text></g>
<g id="MOL007119"><rect x="341" y="91" width="10" height="10" rx="2"/><text x="346" y="99">MOL007119</text></g>
<g id="MOL007093"><rect x="404" y="103" width="10" height="10" rx="2"/><text x="409" y="111">MOL007093</text></g>
<g id="MOL007107"><rect x="377" y="121" width="10" height="10" rx="2"/><text x="382" y="129">MOL007107</text></g>
<g id="MOL007155"><rect x="404" y="142" width="10" height="10" rx="2"/><text x="409" y="150">MOL007155</text></g>
<g id="MOL007049"><rect x="341" y="149" width="10" height="10" rx="2"/><text x="346" y="157">MOL007049</text></g>
<g id="MOL007105"><rect x="366" y="164" width="10" height="10" rx="2"/><text x="371" y="172">MOL007105</text></g>
<g id="MOL007122"><rect x="292" y="179" width="10" height="10" rx="2"/><text x="297" y="187">MOL007122</text></g>
<g id="MOL007045"><rect x="391" y="181" width="10" height="10" rx="2"/><text x="396" y="189">MOL007045</text></g>
<g id="MOL000471"><rect x="335" y="196" width="10" height="10" rx="2"/><text x="340" y="204">MOL000471</text></g>
<g id="MOL007094"><rect x="293" y="208" width="10" height="10" rx="2"/><text x="298" y="216">MOL007094</text></g>
<g id="MOL007079"><rect x="366" y="212" width="10" height="10" rx="2"/><text x="371" y="220">MOL007079</text></g>
<g id="MOL002915"><rect x="333" y="232" width="10" height="10" rx="2"/><text x="338" y="240">MOL002915</text></g>
<g id="MOL007125"><rect x="295" y="239" width="10" height="10" rx="2"/><text x="300" y="247">MOL007125</text></g>
<g id="MOL007120"><rect x="810" y="3" width="10" height="10" rx="2"/><text x="815" y="11">MOL007120</text></g>
<g id="MOL008519"><rect x="768" y="12" width="10" height="10" rx="2"/><text x="773" y="20">MOL008519</text></g>
<g id="MOL007115"><rect x="852" y="12" width="10" height="10" rx="2"/><text x="857" y="20">MOL007115</text></g>
<g id="MOL000569"><rect x="731" y="38" width="10" height="10" rx="2"/><text x="736" y="46">MOL000569</text></g>
<g id="MOL007085"><rect x="812" y="32" width="10" height="10" rx="2"/><text x="817" y="40">MOL007085</text></g>
<g id="MOL007063"><rect x="890" y="38" width="10" height="10" rx="2"/><text x="895" y="46">MOL007063</text></g>
<g id="MOL007150"><rect x="762" y="48" width="10" height="10" rx="2"/><text x="767" y="56">MOL007150</text></g>
<g id="MOL007152"><rect x="861" y="49" width="10" height="10" rx="2"/><text x="866" y="57">MOL007152</text></g>
<g id="MOL007156"><rect x="779" y="68" width="10" height="10" rx="2"/><text x="784" y="76">MOL007156</text></g>
<g id="MOL007130"><rect x="843" y="68" width="10" height="10" rx="2"/><text x="848" y="76">MOL007130</text></g>
<g id="MOL007077"><rect x="708" y="75" width="10" height="10" rx="2"/><text x="713" y="83">MOL007077</text></g>
<g id="MOL007141"><rect x="913" y="75" width="10" height="10" rx="2"/><text x="918" y="83">MOL007141</text></g>
<g id="MOL007068"><rect x="732" y="93" width="10" height="10" rx="2"/><text x="737" y="101">MOL007068</text></g>
<g id="MOL007071"><rect x="892" y="93" width="10" height="10" rx="2"/><text x="897" y="101">MOL007071</text></g>
<g id="MOL007132"><rect x="699" y="120" width="10" height="10" rx="2"/><text x="704" y="128">MOL007132</text></g>
<g id="MOL007121"><rect x="923" y="120" width="10" height="10" rx="2"/><text x="928" y="128">MOL007121</text></g>
<g id="MOL000519"><rect x="758" y="132" width="10" height="10" rx="2"/><text x="763" y="140">MOL000519</text></g>
<g id="MOL007082"><rect x="864" y="132" width="10" height="10" rx="2"/><text x="869" y="140">MOL007082</text></g>
<g id="MOL007058"><rect x="732" y="146" width="10" height="10" rx="2"/><text x="737" y="154">MOL007058</text></g>
<g id="MOL007048"><rect x="892" y="146" width="10" height="10" rx="2"/><text x="897" y="154">MOL007048</text></g>
<g id="MOL007070"><rect x="708" y="164" width="10" height="10" rx="2"/><text x="713" y="172">MOL007070</text></g>
<g id="MOL007118"><rect x="913" y="164" width="10" height="10" rx="2"/><text x="918" y="172">MOL007118</text></g>
<g id="MOL000028"><rect x="811" y="173" width="10" height="10" rx="2"/><text x="816" y="181">MOL000028</text></g>
<g id="MOL007143"><rect x="762" y="190" width="10" height="10" rx="2"/><text x="767" y="198">MOL007143</text></g>
<g id="MOL007149"><rect x="861" y="190" width="10" height="10" rx="2"/><text x="866" y="198">MOL007149</text></g>
<g id="MOL007151"><rect x="731" y="202" width="10" height="10" rx="2"/><text x="736" y="210">MOL007151</text></g>
<g id="MOL011909"><rect x="890" y="202" width="10" height="10" rx="2"/><text x="895" y="210">MOL011909</text></g>
<g id="MOL007081"><rect x="812" y="207" width="10" height="10" rx="2"/><text x="817" y="215">MOL007081</text></g>
<g id="MOL007050"><rect x="768" y="227" width="10" height="10" rx="2"/><text x="773" y="235">MOL007050</text></g>
<g id="MOL007123"><rect x="853" y="227" width="10" height="10" rx="2"/><text x="858" y="235">MOL007123</text></g>
<g id="MOL007142"><rect x="810" y="236" width="10" height="10" rx="2"/><text x="815" y="244">MOL007142</text></g>
</g>
<g class="p">
<g id="MOL001941"><rect x="552" y="48" width="10" height="10" rx="2"/><text x="557" y="56">MOL001941</text></g>
<g id="MOL003588"><rect x="514" y="56" width="10" height="10" rx="2"/><text x="519" y="64">MOL003588</text></g>
<g id="MOL004792"><rect x="588" y="56" width="10" height="10" rx="2"/><text x="593" y="64">MOL004792</text></g>
<g id="MOL001939"><rect x="485" y="80" width="10" height="10" rx="2"/><text x="490" y="88">MOL001939</text></g>
<g id="MOL007061"><rect x="551" y="75" width="10" height="10" rx="2"/><text x="556" y="83">MOL007061</text></g>
<g id="MOL005807"><rect x="617" y="81" width="10" height="10" rx="2"/><text x="622" y="89">MOL005807</text></g>
<g id="MOL002710"><rect x="503" y="104" width="10" height="10" rx="2"/><text x="508" y="112">MOL002710</text></g>
<g id="MOL001924"><rect x="599" y="104" width="10" height="10" rx="2"/><text x="604" y="112">MOL001924</text></g>
<g id="MOL005789"><rect x="470" y="115" width="10" height="10" rx="2"/><text x="475" y="123">MOL005789</text></g>
<g id="MOL001919"><rect x="633" y="115" width="10" height="10" rx="2"/><text x="638" y="123">MOL001919</text></g>
<g id="MOL000096"><rect x="470" y="154" width="10" height="10" rx="2"/><text x="475" y="162">MOL000096</text></g>
<g id="MOL000211"><rect x="633" y="154" width="10" height="10" rx="2"/><text x="638" y="162">MOL000211</text></g>
<g id="MOL000422"><rect x="503" y="162" width="10" height="10" rx="2"/><text x="508" y="170">MOL000422</text></g>
<g id="MOL002464"><rect x="599" y="163" width="10" height="10" rx="2"/><text x="604" y="171">MOL002464</text></g>
<g id="MOL002644"><rect x="485" y="189" width="10" height="10" rx="2"/><text x="490" y="197">MOL002644</text></g>
<g id="MOL000359"><rect x="551" y="191" width="10" height="10" rx="2"/><text x="556" y="199">MOL000359</text></g>
<g id="MOL005792"><rect x="617" y="189" width="10" height="10" rx="2"/><text x="622" y="197">MOL005792</text></g>
<g id="MOL000492"><rect x="514" y="213" width="10" height="10" rx="2"/><text x="519" y="221">MOL000492</text></g>
<g id="MOL013103"><rect x="588" y="214" width="10" height="10" rx="2"/><text x="593" y="222">MOL013103</text></g>
<g id="MOL005800"><rect x="551" y="222" width="10" height="10" rx="2"/><text x="556" y="230">MOL005800</text></g>
</g>
<g class="r">
<g id="MOL008482"><rect x="115" y="275" width="10" height="10" rx="2"/><text x="120" y="283">MOL008482</text></g>
<g id="MOL008490"><rect x="76" y="285" width="10" height="10" rx="2"/><text x="81" y="293">MOL008490</text></g>
<g id="MOL008460"><rect x="156" y="285" width="10" height="10" rx="2"/><text x="161" y="293">MOL008460</text></g>
<g id="MOL001455"><rect x="43" y="312" width="10" height="10" rx="2"/><text x="48" y="320">MOL001455</text></g>
<g id="MOL008488"><rect x="91" y="318" width="10" height="10" rx="2"/><text x="96" y="326">MOL008488</text></g>
<g id="MOL008465"><rect x="141" y="318" width="10" height="10" rx="2"/><text x="146" y="326">MOL008465</text></g>
<g id="MOL008458"><rect x="187" y="312" width="10" height="10" rx="2"/><text x="192" y="320">MOL008458</text></g>
<g id="MOL008471"><rect x="25" y="350" width="10" height="10" rx="2"/><text x="30" y="358">MOL008471</text></g>
<g id="MOL001454"><rect x="62" y="358" width="10" height="10" rx="2"/><text x="67" y="366">MOL001454</text></g>
<g id="MOL008871"><rect x="206" y="350" width="10" height="10" rx="2"/><text x="211" y="358">MOL008871</text></g>
<g id="MOL008635"><rect x="170" y="358" width="10" height="10" rx="2"/><text x="175" y="366">MOL008635</text></g>
<g id="MOL008478"><rect x="25" y="394" width="10" height="10" rx="2"/><text x="30" y="402">MOL008478</text></g>
<g id="MOL008698"><rect x="206" y="394" width="10" height="10" rx="2"/><text x="211" y="402">MOL008698</text></g>
<g id="MOL000098"><rect x="72" y="406" width="10" height="10" rx="2"/><text x="77" y="414">MOL000098</text></g>
<g id="MOL008489"><rect x="160" y="406" width="10" height="10" rx="2"/><text x="165" y="414">MOL008489</text></g>
<g id="MOL000790"><rect x="43" y="432" width="10" height="10" rx="2"/><text x="48" y="440">MOL000790</text></g>
<g id="MOL008468"><rect x="115" y="429" width="10" height="10" rx="2"/><text x="120" y="437">MOL008468</text></g>
<g id="MOL008487"><rect x="187" y="432" width="10" height="10" rx="2"/><text x="192" y="440">MOL008487</text></g>
<g id="MOL008457"><rect x="76" y="457" width="10" height="10" rx="2"/><text x="81" y="465">MOL008457</text></g>
<g id="MOL008474"><rect x="156" y="457" width="10" height="10" rx="2"/><text x="161" y="465">MOL008474</text></g>
<g id="MOL008456"><rect x="115" y="468" width="10" height="10" rx="2"/><text x="120" y="476">MOL008456</text></g>
<g id="MOL008484"><rect x="988" y="270" width="10" height="10" rx="2"/><text x="993" y="278">MOL008484</text></g>
<g id="MOL000073"><rect x="948" y="280" width="10" height="10" rx="2"/><text x="953" y="288">MOL000073</text></g>
<g id="MOL008476"><rect x="1028" y="280" width="10" height="10" rx="2"/><text x="1033" y="288">MOL008476</text></g>
<g id="MOL013192"><rect x="914" y="307" width="10" height="10" rx="2"/><text x="919" y="315">MOL013192</text></g>
<g id="MOL008472"><rect x="1062" y="307" width="10" height="10" rx="2"/><text x="1067" y="315">MOL008472</text></g>
<g id="MOL008481"><rect x="963" y="315" width="10" height="10" rx="2"/><text x="968" y="323">MOL008481</text></g>
<g id="MOL008475"><rect x="1012" y="316" width="10" height="10" rx="2"/><text x="1017" y="324">MOL008475</text></g>
<g id="MOL008473"><rect x="897" y="345" width="10" height="10" rx="2"/><text x="902" y="353">MOL008473</text></g>
<g id="MOL012578"><rect x="1079" y="345" width="10" height="10" rx="2"/><text x="1084" y="353">MOL012578</text></g>
<g id="MOL008477"><rect x="932" y="355" width="10" height="10" rx="2"/><text x="937" y="363">MOL008477</text></g>
<g id="MOL008469"><rect x="1043" y="355" width="10" height="10" rx="2"/><text x="1048" y="363">MOL008469</text></g>
<g id="MOL006422"><rect x="897" y="389" width="10" height="10" rx="2"/><text x="902" y="397">MOL006422</text></g>
<g id="MOL005864"><rect x="1079" y="389" width="10" height="10" rx="2"/><text x="1084" y="397">MOL005864</text></g>
<g id="MOL000785"><rect x="943" y="405" width="10" height="10" rx="2"/><text x="948" y="413">MOL000785</text></g>
<g id="MOL008470"><rect x="1031" y="405" width="10" height="10" rx="2"/><text x="1036" y="413">MOL008470</text></g>
<g id="MOL008463"><rect x="914" y="428" width="10" height="10" rx="2"/><text x="919" y="436">MOL008463</text></g>
<g id="MOL008467"><rect x="988" y="425" width="10" height="10" rx="2"/><text x="993" y="433">MOL008467</text></g>
<g id="MOL012577"><rect x="1062" y="428" width="10" height="10" rx="2"/><text x="1067" y="436">MOL012577</text></g>
<g id="MOL006397"><rect x="948" y="454" width="10" height="10" rx="2"/><text x="953" y="462">MOL006397</text></g>
<g id="MOL008485"><rect x="1028" y="454" width="10" height="10" rx="2"/><text x="1033" y="462">MOL008485</text></g>
<g id="MOL008455"><rect x="988" y="465" width="10" height="10" rx="2"/><text x="993" y="473">MOL008455</text></g>
</g>
<g class="v">
<g id="MOL001771"><rect x="440" y="516" width="10" height="10" rx="2"/><text x="445" y="524">MOL001771</text></g>
<g id="MOL005384"><rect x="440" y="528" width="10" height="10" rx="2"/><text x="445" y="536">MOL005384</text></g>
<g id="MOL000358"><rect x="440" y="540" width="10" height="10" rx="2" style="fill:#8a5be0"/><text x="445" y="548">MOL000358</text></g>
</g>
<g class="b">
<g id="MOL011753"><rect x="557" y="508" width="10" height="10" rx="2"/><text x="562" y="516">MOL011753</text></g>
<g id="MOL000449"><rect x="517" y="524" width="10" height="10" rx="2"/><text x="522" y="532">MOL000449</text></g>
<g id="MOL001956"><rect x="596" y="524" width="10" height="10" rx="2"/><text x="601" y="532">MOL001956</text></g>
<g id="MOL004328"><rect x="501" y="566" width="10" height="10" rx="2"/><text x="506" y="574">MOL004328</text></g>
<g id="MOL001942"><rect x="613" y="566" width="10" height="10" rx="2"/><text x="618" y="574">MOL001942</text></g>
<g id="MOL010861"><rect x="517" y="607" width="10" height="10" rx="2"/><text x="522" y="615">MOL010861</text></g>
<g id="MOL009722"><rect x="596" y="607" width="10" height="10" rx="2"/><text x="601" y="615">MOL009722</text></g>
<g id="MOL006812"><rect x="557" y="624" width="10" height="10" rx="2"/><text x="562" y="632">MOL006812</text></g>
</g>
<g class="c">
<g id="MOL001297"><rect x="678" y="521" width="10" height="10" rx="2"/><text x="683" y="529">MOL001297</text></g>
</g>
<g class="o">
<g id="MOL009631"><rect x="286" y="513" width="10" height="10" rx="2"/><text x="291" y="521">MOL009631</text></g>
<g id="MOL009633"><rect x="334" y="513" width="10" height="10" rx="2"/><text x="339" y="521">MOL009633</text></g>
<g id="MOL009634"><rect x="242" y="534" width="10" height="10" rx="2"/><text x="247" y="542">MOL009634</text></g>
<g id="MOL013271"><rect x="378" y="534" width="10" height="10" rx="2"/><text x="383" y="542">MOL013271</text></g>
<g id="MOL002666"><rect x="309" y="546" width="10" height="10" rx="2"/><text x="314" y="554">MOL002666</text></g>
<g id="MOL009678"><rect x="259" y="563" width="10" height="10" rx="2"/><text x="264" y="571">MOL009678</text></g>
<g id="MOL009615"><rect x="211" y="571" width="10" height="10" rx="2"/><text x="216" y="579">MOL009615</text></g>
<g id="MOL010625"><rect x="358" y="563" width="10" height="10" rx="2"/><text x="363" y="571">MOL010625</text></g>
<g id="MOL007415"><rect x="411" y="571" width="10" height="10" rx="2"/><text x="416" y="579">MOL007415</text></g>
<g id="MOL009618"><rect x="308" y="598" width="10" height="10" rx="2"/><text x="313" y="606">MOL009618</text></g>
<g id="MOL009681"><rect x="229" y="606" width="10" height="10" rx="2"/><text x="234" y="614">MOL009681</text></g>
<g id="MOL009635"><rect x="196" y="618" width="10" height="10" rx="2"/><text x="201" y="626">MOL009635</text></g>
<g id="MOL009644"><rect x="389" y="606" width="10" height="10" rx="2"/><text x="394" y="614">MOL009644</text></g>
<g id="MOL009662"><rect x="426" y="618" width="10" height="10" rx="2"/><text x="431" y="626">MOL009662</text></g>
<g id="MOL009641"><rect x="274" y="633" width="10" height="10" rx="2"/><text x="279" y="641">MOL009641</text></g>
<g id="MOL009653"><rect x="342" y="633" width="10" height="10" rx="2"/><text x="347" y="641">MOL009653</text></g>
<g id="MOL001495"><rect x="229" y="660" width="10" height="10" rx="2"/><text x="234" y="668">MOL001495</text></g>
<g id="MOL012888"><rect x="201" y="669" width="10" height="10" rx="2"/><text x="206" y="677">MOL012888</text></g>
<g id="MOL001979"><rect x="308" y="668" width="10" height="10" rx="2"/><text x="313" y="676">MOL001979</text></g>
<g id="MOL009656"><rect x="389" y="660" width="10" height="10" rx="2"/><text x="394" y="668">MOL009656</text></g>
<g id="MOL002259"><rect x="420" y="668" width="10" height="10" rx="2"/><text x="425" y="676">MOL002259</text></g>
<g id="MOL007449"><rect x="259" y="704" width="10" height="10" rx="2"/><text x="264" y="712">MOL007449</text></g>
<g id="MOL009617"><rect x="224" y="712" width="10" height="10" rx="2"/><text x="229" y="720">MOL009617</text></g>
<g id="MOL009642"><rect x="358" y="704" width="10" height="10" rx="2"/><text x="363" y="712">MOL009642</text></g>
<g id="MOL002663"><rect x="396" y="711" width="10" height="10" rx="2"/><text x="401" y="719">MOL002663</text></g>
<g id="MOL003578"><rect x="309" y="721" width="10" height="10" rx="2"/><text x="314" y="729">MOL003578</text></g>
<g id="MOL009640"><rect x="263" y="740" width="10" height="10" rx="2"/><text x="268" y="748">MOL009640</text></g>
<g id="MOL009665"><rect x="357" y="740" width="10" height="10" rx="2"/><text x="362" y="748">MOL009665</text></g>
<g id="MOL009612"><rect x="310" y="752" width="10" height="10" rx="2"/><text x="315" y="760">MOL009612</text></g>
<g id="MOL005088"><rect x="813" y="507" width="10" height="10" rx="2"/><text x="818" y="515">MOL005088</text></g>
<g id="MOL009664"><rect x="860" y="507" width="10" height="10" rx="2"/><text x="865" y="515">MOL009664</text></g>
<g id="MOL009646"><rect x="769" y="527" width="10" height="10" rx="2"/><text x="774" y="535">MOL009646</text></g>
<g id="MOL001323"><rect x="836" y="536" width="10" height="10" rx="2"/><text x="841" y="544">MOL001323</text></g>
<g id="MOL007235"><rect x="905" y="527" width="10" height="10" rx="2"/><text x="910" y="535">MOL007235</text></g>
<g id="MOL005406"><rect x="787" y="554" width="10" height="10" rx="2"/><text x="792" y="562">MOL005406</text></g>
<g id="MOL009639"><rect x="887" y="554" width="10" height="10" rx="2"/><text x="892" y="562">MOL009639</text></g>
<g id="MOL005105"><rect x="737" y="565" width="10" height="10" rx="2"/><text x="742" y="573">MOL005105</text></g>
<g id="MOL010234"><rect x="937" y="565" width="10" height="10" rx="2"/><text x="942" y="573">MOL010234</text></g>
<g id="MOL008691"><rect x="803" y="573" width="10" height="10" rx="2"/><text x="808" y="581">MOL008691</text></g>
<g id="MOL009650"><rect x="868" y="573" width="10" height="10" rx="2"/><text x="873" y="581">MOL009650</text></g>
<g id="MOL001406"><rect x="757" y="597" width="10" height="10" rx="2"/><text x="762" y="605">MOL001406</text></g>
<g id="MOL009677"><rect x="916" y="597" width="10" height="10" rx="2"/><text x="921" y="605">MOL009677</text></g>
<g id="MOL008400"><rect x="722" y="612" width="10" height="10" rx="2"/><text x="727" y="620">MOL008400</text></g>
<g id="MOL009604"><rect x="951" y="612" width="10" height="10" rx="2"/><text x="956" y="620">MOL009604</text></g>
<g id="MOL002219"><rect x="782" y="638" width="10" height="10" rx="2"/><text x="787" y="646">MOL002219</text></g>
<g id="MOL002773"><rect x="888" y="638" width="10" height="10" rx="2"/><text x="893" y="646">MOL002773</text></g>
<g id="MOL001552"><rect x="757" y="651" width="10" height="10" rx="2"/><text x="762" y="659">MOL001552</text></g>
<g id="MOL009622"><rect x="916" y="651" width="10" height="10" rx="2"/><text x="921" y="659">MOL009622</text></g>
<g id="MOL002897"><rect x="727" y="661" width="10" height="10" rx="2"/><text x="732" y="669">MOL002897</text></g>
<g id="MOL002322"><rect x="947" y="661" width="10" height="10" rx="2"/><text x="952" y="669">MOL002322</text></g>
<g id="MOL006209"><rect x="835" y="678" width="10" height="10" rx="2"/><text x="840" y="686">MOL006209</text></g>
<g id="MOL007179"><rect x="787" y="694" width="10" height="10" rx="2"/><text x="792" y="702">MOL007179</text></g>
<g id="MOL000538"><rect x="887" y="694" width="10" height="10" rx="2"/><text x="892" y="702">MOL000538</text></g>
<g id="MOL001461"><rect x="751" y="705" width="10" height="10" rx="2"/><text x="756" y="713">MOL001461</text></g>
<g id="MOL001494"><rect x="923" y="705" width="10" height="10" rx="2"/><text x="928" y="713">MOL001494</text></g>
<g id="MOL002668"><rect x="836" y="711" width="10" height="10" rx="2"/><text x="841" y="719">MOL002668</text></g>
<g id="MOL001458"><rect x="790" y="734" width="10" height="10" rx="2"/><text x="795" y="742">MOL001458</text></g>
<g id="MOL009621"><rect x="884" y="734" width="10" height="10" rx="2"/><text x="889" y="742">MOL009621</text></g>
<g id="MOL000953"><rect x="836" y="744" width="10" height="10" rx="2"/><text x="841" y="752">MOL000953</text></g>
</g>
</g>
<g id="herbs" class="h">
<g id="PD"><polygon points="665,226 656,244 674,244" fill="#17998f"/><text x="665" y="239" style="font-size:12px">PD</text></g>
<g id="BaiShao"><polygon points="543,129 553,135 563,129 553,147" fill="#e05fe0"/><text x="556" y="143">Bai Shao</text></g>
<g id="DanShen"><polygon points="543,245 553,251 563,245 553,263" fill="#cfcc10"/><text x="555" y="260">Dan Shen</text></g>
<g id="TianMa"><polygon points="436,475 446,481 456,475 446,493" fill="#8a4ff0"/><text x="447" y="490">Tian Ma</text></g>
<g id="GouTeng"><polygon points="547,477 557,483 567,477 557,495" fill="#f06a6a"/><text x="557" y="492">Gou Teng</text></g>
<g id="GuiBan"><polygon points="673,496 683,502 693,496 683,514" fill="#40dede"/><text x="684" y="507">Gui Ban</text></g>
<g id="DangGui"><polygon points="547,565 557,571 567,565 557,583" fill="#7b7bf0"/><text x="561" y="580">Dang Gui</text></g>
<g id="GouQiZi"><polygon points="547,660 557,666 567,660 557,678" fill="#f5b914"/><text x="563" y="675">Gou Qi Zi</text></g>
</g>
</svg>
